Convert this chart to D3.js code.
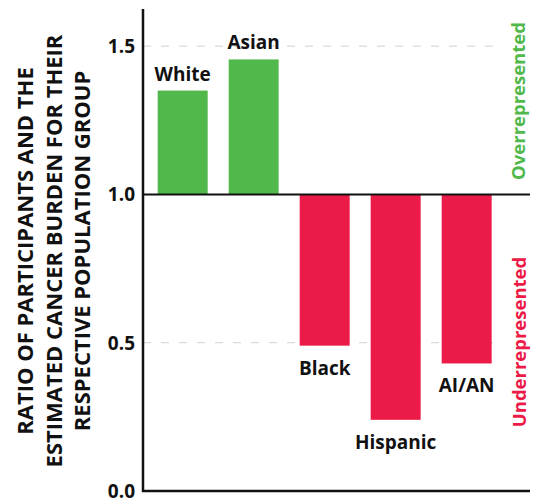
<!DOCTYPE html>
<html><head><meta charset="utf-8">
<script src="https://cdn.jsdelivr.net/npm/d3@7"></script>
<style>
body{margin:0;background:#fff;}
text{font-family:"Open Sans",sans-serif;font-weight:bold;}
</style></head>
<body><svg id="c" width="533" height="501"></svg>
<script>
const categories = ["White","Asian","Black","Hispanic","AI/AN"];
const values = [1.35, 1.455, 0.49, 0.24, 0.43];
const tickValues = [0.0, 0.5, 1.0, 1.5];
const tickLabels = ["0.0","0.5","1.0","1.5"];
const gridValues = [0.5, 1.5];
const titleLines = ["RATIO OF PARTICIPANTS AND THE","ESTIMATED CANCER BURDEN FOR THEIR","RESPECTIVE POPULATION GROUP"];
const groupLabels = ["Overrepresented","Underrepresented"];

const green = "#51b84b", red = "#ec1a47";
const svg = d3.select("#c");
const x0 = 143, x1 = 530;
const y = d3.scaleLinear().domain([0, 1.625]).range([491, 9]);
const x = d3.scaleBand().domain(categories).range([x0, x1])
  .paddingInner(0.296).paddingOuter(0.3735).align(0.277);

svg.selectAll(".grid").data(gridValues).enter().append("line")
  .attr("x1", x0).attr("x2", 500).attr("y1", d=>y(d)).attr("y2", d=>y(d))
  .attr("stroke", "#d9d9d9").attr("stroke-width", 1.2).attr("stroke-dasharray", "8,10");

svg.selectAll(".bar").data(values).enter().append("rect")
  .attr("x", (d,i)=>x(categories[i])).attr("width", x.bandwidth())
  .attr("y", d=>y(Math.max(d,1))).attr("height", d=>Math.abs(y(d)-y(1)))
  .attr("fill", d=> d>=1 ? green : red);

svg.selectAll(".blab").data(values).enter().append("text")
  .attr("x", (d,i)=>x(categories[i])+x.bandwidth()/2)
  .attr("y", d=> d>=1 ? y(d)-10 : y(d)+29)
  .attr("text-anchor","middle").attr("font-size",19).attr("fill","#111")
  .text((d,i)=>categories[i]);

svg.append("line").attr("x1", x0).attr("x2", x1).attr("y1", y(1)).attr("y2", y(1))
  .attr("stroke","#111").attr("stroke-width",2);

const yAxis = d3.axisLeft(y).tickValues(tickValues).tickSize(0).tickPadding(8)
  .tickFormat((d,i)=>tickLabels[i]);
const ga = svg.append("g").attr("transform",`translate(${x0},0)`).call(yAxis);
ga.select(".domain").remove();
ga.selectAll("text").attr("font-size",19).attr("fill","#111")
  .attr("font-family","'Open Sans',sans-serif").attr("font-weight","bold").attr("dy","0.34em");
svg.append("line").attr("x1",x0).attr("x2",x0).attr("y1",y(1.625)).attr("y2",y(0)+1)
  .attr("stroke","#111").attr("stroke-width",2.5);
svg.append("line").attr("x1",x0-1).attr("x2",x1).attr("y1",y(0)).attr("y2",y(0))
  .attr("stroke","#111").attr("stroke-width",2.5);

const t = svg.append("text").attr("transform","translate(0,251) rotate(-90)")
  .attr("text-anchor","middle").attr("font-size",22).attr("fill","#111");
titleLines.forEach((l,i)=>t.append("tspan").attr("x",0).attr("y",33+i*28.5).text(l));

svg.append("text").attr("transform",`translate(525,101) rotate(-90)`)
  .attr("text-anchor","middle").attr("font-size",18.5).attr("fill",green).text(groupLabels[0]);
svg.append("text").attr("transform",`translate(526,342) rotate(-90)`)
  .attr("text-anchor","middle").attr("font-size",18.5).attr("fill",red).text(groupLabels[1]);
</script></body></html>
